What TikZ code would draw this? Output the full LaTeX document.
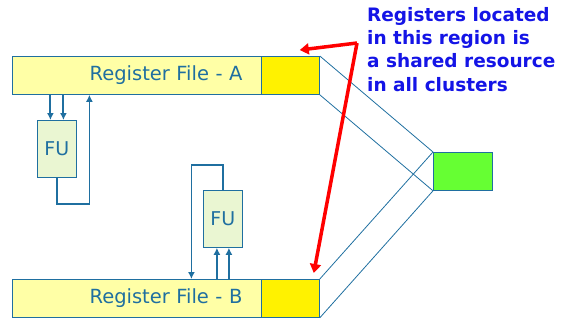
\documentclass[tikz,border=0pt]{standalone}
\usepackage{fontspec}
\setmainfont{DejaVu Sans}
\usetikzlibrary{arrows.meta,calc}

\definecolor{edgeblue}{HTML}{1F6FA0}
\definecolor{rfyellow}{HTML}{FFFFA6}
\definecolor{fugreen}{HTML}{EAF6D2}
\definecolor{xgreen}{HTML}{66FF33}
\definecolor{notered}{HTML}{FF0000}
\definecolor{noteblue}{HTML}{1414E6}

\tikzset{
  regfile/.style={draw=edgeblue, line width=0.8pt, fill=rfyellow, text=edgeblue,
    anchor=north west, minimum width=249pt, minimum height=38pt,
    inner xsep=19pt, text width=211pt, align=right, font=\fontsize{19.5}{21}\selectfont},
  shared/.style={draw=edgeblue, line width=0.8pt, fill=yellow, anchor=north west,
    minimum width=58pt, minimum height=38pt},
  funit/.style={draw=edgeblue, line width=0.8pt, fill=fugreen, text=edgeblue,
    anchor=north west, minimum width=39pt, minimum height=57pt, inner sep=0pt,
    font=\fontsize{19}{20}\selectfont},
  bus/.style={draw=edgeblue, line width=2pt, -{Latex[length=7pt,width=7pt]}},
  loopback/.style={draw=edgeblue, line width=1.4pt, -{Latex[length=7pt,width=7pt]}},
  wire/.style={draw=edgeblue, line width=0.8pt},
  pointer/.style={draw=notered, line width=3.5pt, -{Triangle[length=9pt,width=11pt]}}
}

\begin{document}
\begin{tikzpicture}[x=1pt, y={(0pt,-1pt)}]
\useasboundingbox (0,0) rectangle (562,322);

% register files with their shared part
\node[regfile] (rfa) at (12,56) {Register File - A};
\node[regfile] (rfb) at (12,279) {Register File - B};
\node[shared] (sha) at (261,56) {};
\node[shared] (shb) at (261,279) {};

% interconnect
\node[draw=edgeblue, line width=0.8pt, fill=xgreen, anchor=north west,
  minimum width=59pt, minimum height=38pt] (xbar) at (433,152) {};
\draw[wire] (sha.north east) -- (xbar.north west);
\draw[wire] (sha.south east) -- (xbar.south west);
\draw[wire] (shb.north east) -- (xbar.north west);
\draw[wire] (shb.south east) -- (xbar.south west);

% functional units
\node[funit] (fua) at (37,120) {FU};
\node[funit] (fub) at (203,190) {FU};

\draw[bus] ([xshift=-6.5pt]fua.north |- rfa.south) -- ([xshift=-6.5pt]fua.north);
\draw[bus] ([xshift=6.5pt]fua.north |- rfa.south) -- ([xshift=6.5pt]fua.north);
\draw[loopback] (fua.south) -- ++(0,26) -| ([xshift=-47.5pt]rfa.south);

\draw[bus] ([xshift=-6pt]fub.south |- rfb.north) -- ([xshift=-6pt]fub.south);
\draw[bus] ([xshift=6pt]fub.south |- rfb.north) -- ([xshift=6pt]fub.south);
\draw[loopback] (fub.north) -- ++(0,-25) -| ([xshift=54.5pt]rfb.north);

% note
\node[anchor=north west, align=left, text=noteblue, inner sep=0pt,
  font=\fontsize{18.5}{23.3}\selectfont\bfseries] (note) at (367,7)
  {Registers located\\in this region is\\a shared resource\\in all clusters};
\coordinate (bend) at (357,43);
\coordinate (tipa) at ($(sha.north east)+(-20,-6)$);
\coordinate (tipb) at ($(shb.north east)+(-6,-6)$);
\draw[pointer] (bend) -- (tipa);
\draw[pointer] (bend) -- (tipb);
\end{tikzpicture}
\end{document}
